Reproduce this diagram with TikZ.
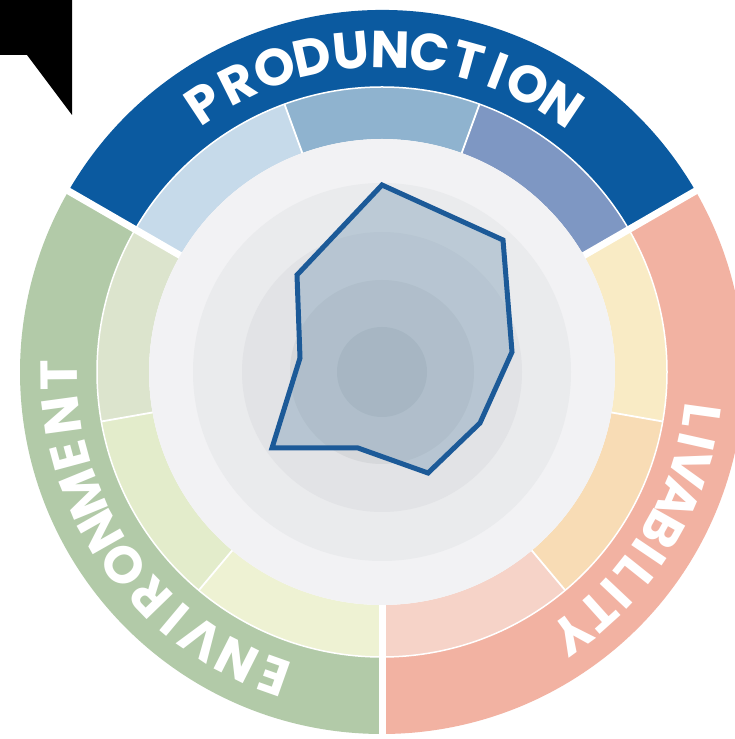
\documentclass[tikz,border=0pt]{standalone}
\usepackage{fontspec}
\setsansfont{Poppins}
\definecolor{prodD}{HTML}{0B5AA0}
\definecolor{prodA}{HTML}{C6DAEA}
\definecolor{prodB}{HTML}{8FB3CF}
\definecolor{prodC}{HTML}{7E97C3}
\definecolor{livD}{HTML}{F2B2A2}
\definecolor{livA}{HTML}{F9EBC5}
\definecolor{livB}{HTML}{F8DCB5}
\definecolor{livC}{HTML}{F6D3C8}
\definecolor{envD}{HTML}{B2CAA8}
\definecolor{envA}{HTML}{DCE4CD}
\definecolor{envB}{HTML}{E3ECCB}
\definecolor{envC}{HTML}{EEF2D3}
\definecolor{gA}{HTML}{F2F2F4}
\definecolor{gB}{HTML}{EAEBED}
\definecolor{gC}{HTML}{E2E3E6}
\definecolor{gD}{HTML}{D6D8DB}
\definecolor{gE}{HTML}{C8CBCF}
\definecolor{polyline}{HTML}{1C5A98}
\definecolor{polyfill}{HTML}{6F94B0}
\newcommand\lettfont{\sffamily\bfseries\fontsize{52}{52}\selectfont}
\newcommand\ringsector[5]{\fill[#5] (#1:#3pt) arc[start angle=#1,end angle=#2,radius=#3pt] -- (#2:#4pt) arc[start angle=#2,end angle=#1,radius=#4pt] -- cycle;}
% #1 angle of first letter centre, #2 angle of last letter centre, #3 baseline radius, #4 name prefix,
% #5 list of letter/width-adjustment pairs
\newcommand\arcword[5]{%
  \xdef\arcTot{0}\xdef\arcPrev{0}\xdef\arcN{1}%
  \foreach \ch/\adj [count=\i] in {#5}{%
    \setbox0=\hbox{\lettfont\ch}%
    \pgfmathsetmacro\arcW{\the\wd0+(\adj)}%
    \ifnum\i>1 \pgfmathsetmacro\arcT{\arcTot+(\arcPrev+\arcW)/2}\xdef\arcTot{\arcT}\fi
    \xdef\arcPrev{\arcW}\xdef\arcN{\i}%
  }%
  \pgfmathsetmacro\arcTrk{((#1-(#2))/57.29578*323-\arcTot)/(\arcN-1)}%
  \xdef\arcTrk{\arcTrk}%
  \xdef\arcS{0}\xdef\arcPrev{0}%
  \foreach \ch/\adj [count=\i] in {#5}{%
    \setbox0=\hbox{\lettfont\ch}%
    \pgfmathsetmacro\arcW{\the\wd0+(\adj)}%
    \ifnum\i>1 \pgfmathsetmacro\arcT{\arcS+(\arcPrev+\arcW)/2+\arcTrk}\xdef\arcS{\arcT}\fi
    \xdef\arcPrev{\arcW}%
    \pgfmathsetmacro\a{#1-\arcS/323*57.29578}%
    \node[lett, rotate=\a-90] (#4\i) at (\a:#3pt) {\ch};
  }%
}
\begin{document}
\begin{tikzpicture}[x=1pt,y=1pt,
  lett/.style={text=white, font=\lettfont, anchor=base, inner sep=0pt},
  gap/.style={white, line width=7pt},
  subgap/.style={white, line width=1.8pt},
  radar/.style={draw=polyline, line width=5pt, fill=polyfill, fill opacity=0.37}]
\useasboundingbox (0,0) rectangle (735,739);
\clip (0,0) rectangle (735,739);
\fill[white] (0,0) rectangle (735,739);
\begin{scope}[shift={(382pt,367pt)}]
  % category bands
  \ringsector{30}{150}{285}{362}{prodD}
  \ringsector{-90}{30}{285}{362}{livD}
  \ringsector{150}{270}{285}{362}{envD}
  % sub bands
  \ringsector{110}{150}{233}{285}{prodA}
  \ringsector{70}{110}{233}{285}{prodB}
  \ringsector{30}{70}{233}{285}{prodC}
  \ringsector{-10}{30}{233}{285}{livA}
  \ringsector{-50}{-10}{233}{285}{livB}
  \ringsector{-90}{-50}{233}{285}{livC}
  \ringsector{150}{190}{233}{285}{envA}
  \ringsector{190}{230}{233}{285}{envB}
  \ringsector{230}{270}{233}{285}{envC}
  % gray rings
  \fill[gA] (0,0) circle[radius=233pt];
  \fill[gB] (0,0) circle[radius=189pt];
  \fill[gC] (0,0) circle[radius=140pt];
  \fill[gD] (0,0) circle[radius=92pt];
  \fill[gE] (0,0) circle[radius=45pt];
  % white separators
  \draw[white, line width=1.5pt] (0,0) circle[radius=285pt];
  \foreach \g in {70,110,-10,-50,190,230}{\draw[subgap] (\g:233pt) -- (\g:285pt);}
  \foreach \g in {30,150,270}{\draw[gap] (\g:233pt) -- (\g:375pt);}
  % radar polygon
  \coordinate (v1) at (0,187);
  \coordinate (v2) at (121,132);
  \coordinate (v3) at (130,20);
  \coordinate (v4) at (98,-51);
  \coordinate (v5) at (46,-101);
  \coordinate (v6) at (-24,-76);
  \coordinate (v7) at (-110,-76);
  \coordinate (v8) at (-82,14);
  \coordinate (v9) at (-85,97);
  \path[radar] (v1) -- (v2) -- (v3) -- (v4) -- (v5) -- (v6) -- (v7) -- (v8) -- (v9) -- cycle;
  % labels along the ring
  \arcword{123.5}{56.2}{304.5}{p}{P/0,R/0,O/0,D/0,U/0,N/0,C/0,T/0,I/-15,O/0,N/0}
  \arcword{-7.9}{-54}{304.5}{l}{L/0,I/-15,V/0,A/0,B/0,I/-15,L/0,I/-15,T/0,Y/0}
  \arcword{250.5}{180.5}{304.5}{e}{E/0,N/0,V/0,I/-15,R/0,O/0,N/0,M/0,E/0,N/0,T/0}
\end{scope}
% black corner mark
\fill[black] (0,739) -- (72,739) -- (72,624) -- (27,684) -- (0,684) -- cycle;
\end{tikzpicture}
\end{document}
